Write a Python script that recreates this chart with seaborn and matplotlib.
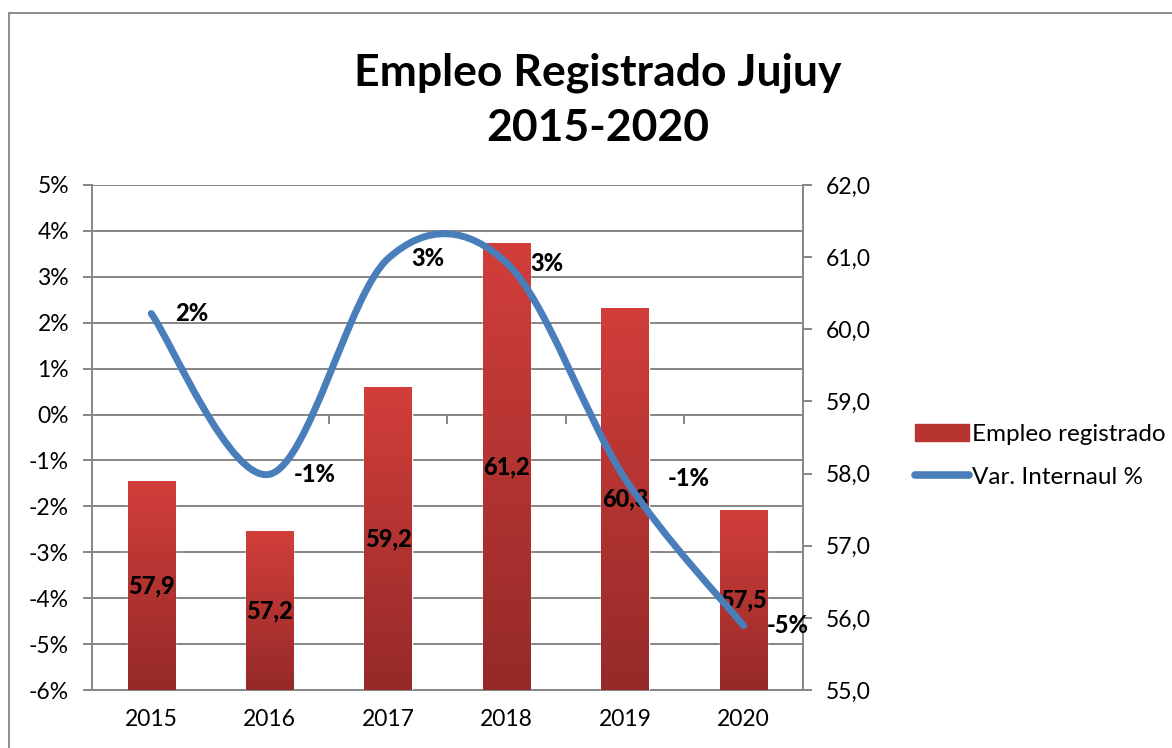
import numpy as np
import matplotlib
matplotlib.use("Agg")
import matplotlib.pyplot as plt
import seaborn as sns
from matplotlib.path import Path
from matplotlib.patches import PathPatch, Rectangle, Patch
from matplotlib.lines import Line2D
from matplotlib.colors import LinearSegmentedColormap
from matplotlib.ticker import FuncFormatter

# Data
years = ['2015', '2016', '2017', '2018', '2019', '2020']
empleo = [57.9, 57.2, 59.2, 61.2, 60.3, 57.5]
var_interanual = [2.2, -1.3, 3.4, 3.3, -1.4, -4.6]
var_labels = ['2%', '-1%', '3%', '3%', '-1%', '-5%']
pct_ticks = list(range(-6, 6))
empleo_ticks = [55, 56, 57, 58, 59, 60, 61, 62]

title = 'Empleo Registrado Jujuy\n2015-2020'
bar_name = 'Empleo registrado'
line_name = 'Var. Internaul %'

gray = '#868686'
blue = '#4a7ebb'
red_top = '#d23e3a'
red_bottom = '#952a29'

sns.set_style('white')
plt.rcParams['font.family'] = ['Lato', 'DejaVu Sans']
plt.rcParams['text.color'] = 'black'

fig = plt.figure(figsize=(11.72, 7.48), dpi=100)
ax = fig.add_axes([0.0785, 0.0775, 0.6065, 0.6752])

# left axis: percent, with the gridlines
ax.set_xlim(-0.5, len(years) - 0.5)
ax.set_ylim(pct_ticks[0], pct_ticks[-1])
ax.set_yticks(pct_ticks)
ax.yaxis.set_major_formatter(FuncFormatter(lambda v, p: f"{int(round(v))}%"))
ax.yaxis.grid(True, color=gray, lw=1.4)
ax.set_axisbelow(True)
ax.tick_params(axis='y', direction='out', length=6.5, width=1.4, color=gray,
               labelsize=16.5, labelcolor='black', pad=10, left=True)
ax.set_xticks(range(len(years)))
ax.set_xticklabels(years)
ax.tick_params(axis='x', length=0, labelsize=16.5, labelcolor='black', pad=14)
for side in ['top', 'right']:
    ax.spines[side].set_visible(False)
for side in ['left', 'bottom']:
    ax.spines[side].set_color(gray)
    ax.spines[side].set_linewidth(1.4)

# small ticks on the 0% line between categories
ax.vlines(np.arange(len(years) - 1) + 0.5, -0.2, 0, color=gray, lw=1.4)

# right axis: bars
ax2 = ax.twinx()
sns.barplot(x=years, y=empleo, ax=ax2, width=0.4, color=red_top, saturation=1)
ax2.set_xlim(-0.5, len(years) - 0.5)
ax2.set_ylim(empleo_ticks[0], empleo_ticks[-1])
ax2.set_yticks(empleo_ticks)
ax2.yaxis.set_major_formatter(FuncFormatter(lambda v, p: f"{v:.1f}".replace('.', ',')))
ax2.set_ylabel('')
ax2.tick_params(axis='y', direction='out', length=6.5, width=1.4, color=gray,
                labelsize=16.5, labelcolor='black', pad=10, right=True)
for side in ['top', 'left', 'bottom']:
    ax2.spines[side].set_visible(False)
ax2.spines['right'].set_color(gray)
ax2.spines['right'].set_linewidth(1.4)

# vertical red gradient inside each bar
cmap = LinearSegmentedColormap.from_list('bar', [red_bottom, red_top])
grad = np.linspace(0, 1, 256).reshape(-1, 1)
base = ax2.get_ylim()[0]
bars = ax2.containers[0]
for p in bars:
    top = p.get_y() + p.get_height()
    p.set_y(base)
    p.set_height(top - base)
    x0 = p.get_x()
    im = ax2.imshow(grad, extent=[x0, x0 + p.get_width(), base, top], origin='lower',
                    aspect='auto', cmap=cmap, zorder=p.get_zorder() + 0.1)
    im.set_clip_path(p)
ax2.set_xlim(-0.5, len(years) - 0.5)
ax2.set_ylim(empleo_ticks[0], empleo_ticks[-1])
ax2.bar_label(bars, labels=[f"{v:.1f}".replace('.', ',') for v in empleo],
              label_type='center', fontsize=17, fontweight='black', color='black', zorder=5)

# top axis: smoothed line on the percent scale
ax3 = ax.twinx()
ax3.set_ylim(ax.get_ylim())
ax3.set_yticks([])
for s in ax3.spines.values():
    s.set_visible(False)

pts = np.column_stack([np.arange(len(years)), var_interanual])
ext = np.vstack([pts[0], pts, pts[-1]])
verts = [pts[0]]
codes = [Path.MOVETO]
for i in range(len(pts) - 1):
    p0, p1, p2, p3 = ext[i], ext[i + 1], ext[i + 2], ext[i + 3]
    verts += [p1 + (p2 - p0) / 6, p2 - (p3 - p1) / 6, p2]
    codes += [Path.CURVE4] * 3
ax3.add_patch(PathPatch(Path(verts, codes), fill=False, edgecolor=blue, lw=5,
                        capstyle='round', joinstyle='round'))
for i, (v, lab) in enumerate(zip(var_interanual, var_labels)):
    dx = 31 if i == 4 else 17
    ax3.annotate(lab, (i, v), xytext=(dx, 0), textcoords='offset points',
                 ha='left', va='center', fontsize=17, fontweight='black', color='black')

# title, legend, outer border
fig.text(0.51, 0.866, title, ha='center', va='center', fontsize=32,
         fontweight='bold', linespacing=1.45, color='black')
handles = [Patch(color='#b83431'), Line2D([0], [0], color=blue, lw=5.5, solid_capstyle='round')]
fig.legend(handles, [bar_name, line_name], loc='center left',
           bbox_to_anchor=(903 / 1172, 1 - 456 / 748), frameon=False, fontsize=17.5,
           handlelength=2.2, handletextpad=0.15, labelspacing=0.9, borderpad=0)
fig.add_artist(Rectangle((9 / 1172, -0.01), 1.0, 1 - 13 / 748 + 0.01,
                         transform=fig.transFigure, fill=False, ec='#8c8c8c', lw=1.4))

fig.savefig('out.png', dpi=100)
